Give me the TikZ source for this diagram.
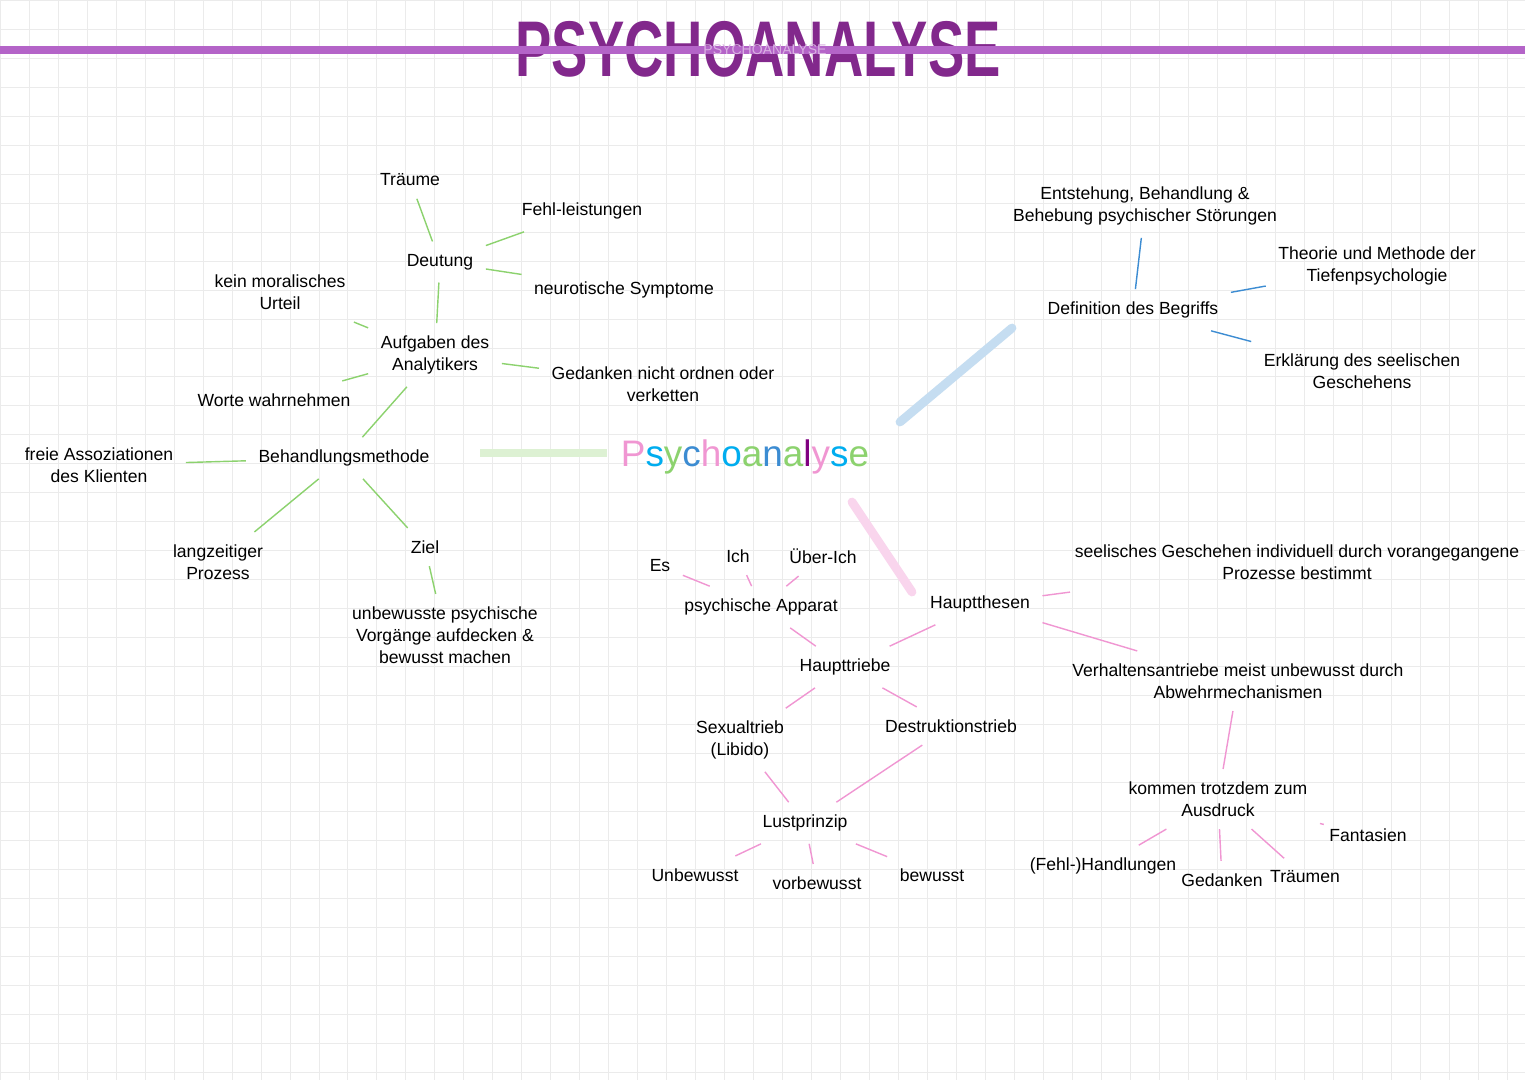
\documentclass[tikz,border=0pt]{standalone}
\usepackage{fontspec}
\setmainfont{Liberation Sans}
\usetikzlibrary{calc}
\definecolor{titlepurple}{RGB}{130,40,140}
\definecolor{barpurple}{RGB}{180,100,200}
\definecolor{lgreen}{RGB}{140,210,110}
\definecolor{lblue}{RGB}{60,140,210}
\definecolor{lpink}{RGB}{240,150,210}

\begin{document}
\begin{tikzpicture}[x=0.02cm,y=-0.02cm,
  txt/.style={font=\fontsize{10}{12.5}\selectfont,align=center,inner sep=7pt},
  gline/.style={lgreen,line width=0.8pt},
  bline/.style={lblue,line width=0.8pt},
  pline/.style={lpink,line width=0.8pt}]
% paper and grid
\useasboundingbox (0,0) rectangle (1525,1080);
\fill[white] (0,0) rectangle (1525,1080);
\draw[black!8,line width=0.5pt,step=0.58cm] (0,0) grid (1525,1080);

% title
\node[font=\fontsize{31}{31}\selectfont\bfseries,text=titlepurple,yscale=1.45,transform shape] (title) at (758,49) {PSYCHOANALYSE};
\draw[barpurple,line width=4.5pt] (0,50) -- (1525,50);
\node[font=\fontsize{8}{8}\selectfont,text=barpurple!50] (subtitle) at (765,50) {PSYCHOANALYSE};

% center
\node[font=\fontsize{21}{24}\selectfont] (center) at (745,457)
  {\color{lpink}P\color{cyan}s\color{lgreen}y\color{lblue}c\color{lpink}h\color{cyan}o\color{lgreen}a\color{lblue}n\color{lgreen}a\color{violet}l\color{lpink}y\color{cyan}s\color{lgreen}e};

% left: treatment
\node[txt] (traeume) at (410,180) {Träume};
\node[txt] (fehl) at (582,211) {Fehl-leistungen};
\node[txt] (deutung) at (440,262) {Deutung};
\node[txt] (neuro) at (624,290) {neurotische Symptome};
\node[txt] (urteil) at (280,292) {kein moralisches\\Urteil};
\node[txt] (aufgaben) at (435,355) {Aufgaben des\\Analytikers};
\node[txt] (gedanken) at (663,384) {Gedanken nicht ordnen oder\\verketten};
\node[txt] (worte) at (274,400) {Worte wahrnehmen};
\node[txt] (methode) at (344,458) {Behandlungsmethode};
\node[txt] (freie) at (99,465) {freie Assoziationen\\des Klienten};
\node[txt] (prozess) at (218,562) {langzeitiger\\Prozess};
\node[txt] (ziel) at (425,547) {Ziel};
\node[txt] (aufdecken) at (445,635) {unbewusste psychische\\Vorgänge aufdecken \&\\bewusst machen};

\foreach \a/\b in {traeume/deutung,fehl/deutung,deutung/neuro,deutung/aufgaben,
  urteil/aufgaben,worte/aufgaben,aufgaben/gedanken,aufgaben/methode,
  freie/methode,methode/prozess,methode/ziel,ziel/aufdecken}
  \draw[gline] (\a) -- (\b);
\draw[lgreen!30,line width=5pt] ($(center.west)+(-8,-4)$) coordinate (cw) -- (480,453) coordinate (mw);

% right top: definition
\node[txt] (entstehung) at (1145,206) {Entstehung, Behandlung \&\\Behebung psychischer Störungen};
\node[txt] (definition) at (1133,310) {Definition des Begriffs};
\node[txt] (theorie) at (1377,266) {Theorie und Methode der\\Tiefenpsychologie};
\node[txt] (erklaerung) at (1362,371) {Erklärung des seelischen\\Geschehens};
\foreach \a/\b in {entstehung/definition,definition/theorie,definition/erklaerung}
  \draw[bline] (\a) -- (\b);
\draw[lblue!30,line width=5pt,line cap=round] (900,422) coordinate (cb) -- (1012,328) coordinate (db);

% bottom: theses
\node[txt] (es) at (660,566) {Es};
\node[txt] (ich) at (738,556) {Ich};
\node[txt] (ueberich) at (823,556) {Über-Ich};
\node[txt] (apparat) at (761,607) {psychische Apparat};
\node[txt] (thesen) at (980,604) {Hauptthesen};
\node[txt] (triebe) at (845,667) {Haupttriebe};
\node[txt] (sexual) at (740,740) {Sexualtrieb\\(Libido)};
\node[txt] (destruktion) at (951,726) {Destruktionstrieb};
\node[txt] (lust) at (805,823) {Lustprinzip};
\node[txt] (unbewusst) at (695,875) {Unbewusst};
\node[txt] (vorbewusst) at (817,883) {vorbewusst};
\node[txt] (bewusst) at (932,875) {bewusst};
\node[txt] (seelisch) at (1297,562) {seelisches Geschehen individuell durch vorangegangene\\Prozesse bestimmt};
\node[txt] (verhalten) at (1238,681) {Verhaltensantriebe meist unbewusst durch\\Abwehrmechanismen};
\node[txt] (ausdruck) at (1218,799) {kommen trotzdem zum\\Ausdruck};
\node[txt] (handlungen) at (1103,866) {(Fehl-)Handlungen};
\node[txt] (gedanken2) at (1222,880) {Gedanken};
\node[txt] (traeumen) at (1305,877) {Träumen};
\node[txt,inner sep=3pt] (fantasien) at (1368,835) {Fantasien};
\foreach \a/\b in {es/apparat,ich/apparat,ueberich/apparat,apparat/triebe,
  thesen/triebe,triebe/sexual,triebe/destruktion,sexual/lust,destruktion/lust,
  lust/unbewusst,lust/vorbewusst,lust/bewusst,thesen/seelisch,thesen/verhalten,
  verhalten/ausdruck,ausdruck/handlungen,ausdruck/gedanken2,ausdruck/traeumen,
  ausdruck/fantasien}
  \draw[pline] (\a) -- (\b);
\draw[lpink!40,line width=5pt,line cap=round] (852,502) coordinate (cp) -- (912,592) coordinate (tp);
\end{tikzpicture}
\end{document}
